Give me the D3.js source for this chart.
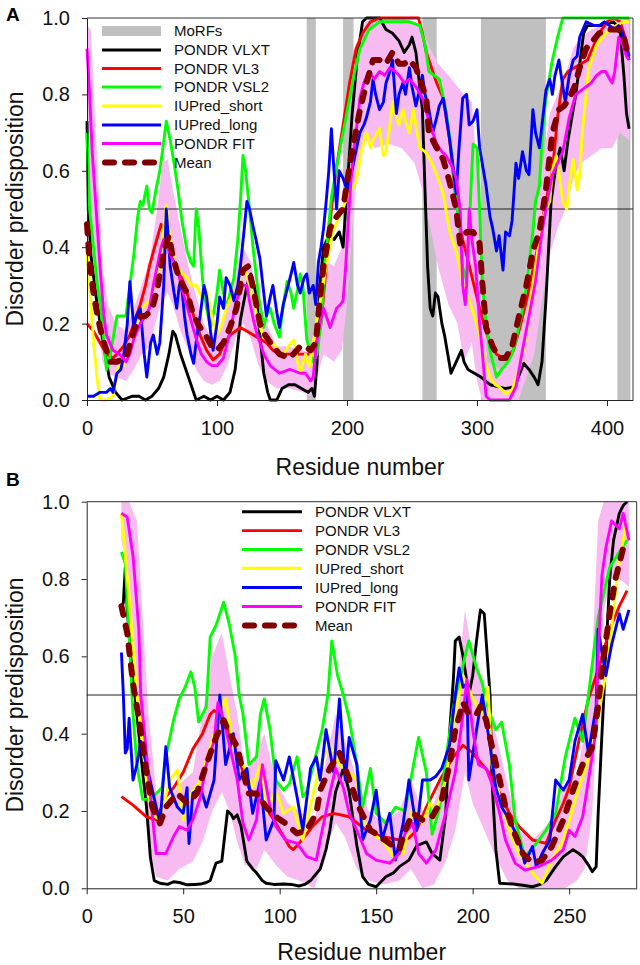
<!DOCTYPE html>
<html><head><meta charset="utf-8">
<script src="https://cdn.jsdelivr.net/npm/d3@7"></script>
<style>body{margin:0;background:#fff}svg{display:block;font-family:"Liberation Sans",Arial,sans-serif}</style>
</head><body>
<svg id="c" width="640" height="965"></svg>
<script>
// ---------- shared ----------
const seriesNames = ["PONDR VLXT","PONDR VL3","PONDR VSL2","IUPred_short","IUPred_long","PONDR FIT","Mean"];
const seriesColors = ["#000000","#ff0000","#00ff00","#ffff00","#0000ff","#ff00ff","#800000"];
const yTicks = [0,0.2,0.4,0.6,0.8,1.0];

// ---------- Panel A ----------
const xTicksA = [0,100,200,300,400];
const morfsA = [[169,176],[197,205],[258,269],[303,353],[408,418]];
const vlxtA = [[0,0.73],[1,0.5],[3,0.38],[7,0.27],[12,0.16],[17,0.06],[22,0.02],[27,0.0],[35,0.01],[40,0.01],[45,0.0],[50,0.01],[55,0.03],[59,0.06],[63,0.12],[66,0.18],[68,0.17],[72,0.12],[77,0.07],[81,0.03],[84,0.0],[90,0.01],[95,0.0],[100,0.01],[105,0.0],[110,0.02],[114,0.08],[118,0.21],[123,0.30],[126,0.33],[130,0.28],[133,0.17],[136,0.07],[139,0.02],[141,0.0],[146,0.0],[150,0.03],[155,0.04],[160,0.04],[165,0.03],[170,0.02],[173,0.03],[175,0.01],[177,0.1],[179,0.3],[182,0.4],[186,0.43],[190,0.42],[194,0.44],[197,0.40],[200,0.55],[204,0.75],[208,0.9],[212,0.99],[215,1.0],[225,1.0],[230,0.97],[235,0.96],[240,0.94],[244,0.91],[248,0.93],[250,0.95],[253,0.91],[256,0.82],[258,0.76],[260,0.55],[262,0.35],[264,0.24],[266,0.22],[268,0.28],[270,0.27],[273,0.2],[275,0.17],[280,0.07],[284,0.1],[288,0.13],[290,0.1],[293,0.08],[298,0.07],[303,0.06],[310,0.04],[316,0.035],[322,0.03],[329,0.035],[333,0.07],[336,0.096],[340,0.08],[344,0.06],[347,0.04],[350,0.1],[353,0.26],[357,0.52],[361,0.62],[364,0.66],[367,0.6],[370,0.68],[373,0.74],[376,0.8],[379,0.88],[382,0.96],[385,0.98],[395,0.98],[405,0.99],[410,0.97],[413,0.85],[415,0.75],[417,0.71]];
const vl3A = [[0,0.2],[5,0.18],[10,0.15],[15,0.12],[20,0.11],[23,0.12],[28,0.14],[33,0.17],[37,0.21],[41,0.25],[45,0.3],[48,0.35],[52,0.4],[57,0.46],[60,0.44],[63,0.41],[66,0.375],[70,0.34],[74,0.31],[77,0.28],[82,0.22],[87,0.17],[92,0.13],[97,0.105],[102,0.12],[106,0.15],[110,0.17],[114,0.18],[118,0.19],[123,0.18],[128,0.17],[133,0.16],[138,0.15],[143,0.13],[148,0.12],[155,0.12],[160,0.12],[165,0.12],[170,0.12],[175,0.13],[180,0.2],[184,0.35],[188,0.5],[192,0.61],[197,0.72],[202,0.83],[207,0.92],[212,0.96],[218,0.99],[225,1.0],[240,1.0],[255,1.0],[258,0.96],[261,0.91],[265,0.87],[269,0.83],[274,0.79],[279,0.68],[283,0.55],[286,0.47],[289,0.42],[292,0.38],[297,0.31],[302,0.24],[306,0.19],[310,0.15],[315,0.12],[320,0.11],[325,0.12],[328,0.13],[333,0.19],[338,0.26],[343,0.34],[348,0.42],[353,0.52],[358,0.6],[362,0.74],[366,0.84],[370,0.86],[375,0.87],[380,0.88],[385,0.89],[390,0.93],[394,0.96],[400,0.99],[405,1.0],[410,0.99],[414,0.95],[417,0.9]];
const vsl2A = [[0,0.70],[2,0.5],[5,0.4],[8,0.3],[10,0.26],[13,0.15],[15,0.08],[17,0.1],[19,0.14],[23,0.22],[27,0.22],[30,0.22],[33,0.3],[36,0.38],[39,0.48],[41,0.52],[43,0.51],[46,0.56],[48,0.5],[50,0.49],[53,0.55],[56,0.6],[58,0.65],[61,0.73],[64,0.68],[67,0.62],[70,0.55],[73,0.47],[77,0.39],[80,0.36],[82,0.35],[84,0.5],[86,0.45],[89,0.31],[92,0.24],[95,0.19],[98,0.24],[100,0.28],[102,0.34],[104,0.3],[107,0.24],[110,0.28],[113,0.32],[116,0.42],[118,0.52],[120,0.64],[122,0.6],[125,0.5],[128,0.39],[132,0.27],[136,0.19],[138,0.22],[141,0.24],[144,0.2],[148,0.165],[151,0.25],[154,0.31],[157,0.28],[159,0.24],[162,0.29],[164,0.33],[166,0.3],[169,0.16],[172,0.12],[174,0.1],[177,0.12],[180,0.2],[183,0.35],[186,0.46],[188,0.53],[192,0.61],[197,0.7],[202,0.79],[206,0.86],[210,0.92],[217,0.97],[225,0.99],[235,0.99],[248,0.99],[256,0.98],[260,0.93],[263,0.86],[267,0.85],[271,0.84],[276,0.76],[279,0.69],[281,0.63],[284,0.52],[287,0.44],[289,0.35],[292,0.31],[294,0.45],[296,0.6],[297,0.67],[300,0.66],[302,0.5],[304,0.31],[307,0.2],[310,0.13],[315,0.06],[319,0.08],[323,0.096],[327,0.12],[330,0.157],[334,0.22],[338,0.3],[343,0.44],[345,0.52],[348,0.56],[350,0.68],[353,0.79],[358,0.89],[362,0.95],[366,1.0],[380,1.0],[400,1.0],[417,1.0]];
const iushortA = [[0,0.38],[2,0.3],[5,0.15],[8,0.05],[10,0.0],[15,0.0],[20,0.01],[24,0.087],[28,0.09],[33,0.13],[37,0.18],[41,0.236],[45,0.25],[48,0.26],[52,0.3],[56,0.35],[59,0.45],[61,0.51],[63,0.45],[66,0.38],[69,0.35],[73,0.33],[77,0.32],[80,0.3],[84,0.3],[88,0.27],[92,0.29],[96,0.22],[100,0.17],[104,0.2],[107,0.24],[111,0.27],[115,0.29],[118,0.32],[120,0.35],[123,0.33],[126,0.28],[128,0.26],[132,0.2],[136,0.165],[140,0.15],[143,0.15],[147,0.13],[151,0.12],[155,0.14],[159,0.157],[162,0.1],[164,0.07],[168,0.12],[171,0.087],[174,0.15],[176,0.19],[180,0.27],[184,0.35],[189,0.44],[194,0.48],[199,0.52],[203,0.55],[207,0.57],[211,0.65],[215,0.70],[218,0.66],[220,0.68],[225,0.71],[228,0.64],[230,0.65],[233,0.72],[235,0.78],[238,0.74],[240,0.72],[243,0.76],[245,0.73],[248,0.7],[251,0.76],[254,0.7],[256,0.66],[260,0.65],[264,0.63],[269,0.59],[274,0.54],[279,0.44],[284,0.39],[289,0.31],[294,0.26],[298,0.22],[302,0.17],[306,0.1],[310,0.06],[314,0.04],[317,0.035],[322,0.017],[327,0.026],[333,0.087],[338,0.17],[342,0.28],[345,0.35],[350,0.47],[353,0.5],[356,0.52],[358,0.6],[361,0.64],[364,0.57],[366,0.52],[369,0.5],[371,0.56],[374,0.63],[377,0.55],[379,0.59],[381,0.7],[384,0.8],[386,0.87],[392,0.93],[399,0.96],[407,0.98],[412,0.99],[417,0.99]];
const iulongA = [[0,0.01],[5,0.01],[10,0.02],[15,0.02],[18,0.03],[20,0.02],[23,0.07],[26,0.08],[28,0.11],[31,0.2],[33,0.31],[36,0.19],[38,0.22],[41,0.24],[44,0.12],[46,0.06],[49,0.15],[51,0.17],[54,0.12],[56,0.15],[59,0.3],[61,0.5],[64,0.35],[67,0.28],[69,0.24],[71,0.3],[73,0.29],[75,0.22],[77,0.17],[80,0.12],[82,0.096],[85,0.18],[87,0.22],[90,0.3],[92,0.27],[95,0.18],[97,0.13],[100,0.2],[102,0.27],[105,0.24],[107,0.32],[110,0.3],[113,0.26],[116,0.3],[118,0.35],[121,0.45],[123,0.52],[125,0.5],[128,0.45],[130,0.42],[133,0.37],[136,0.28],[138,0.22],[141,0.27],[143,0.3],[146,0.23],[148,0.19],[151,0.25],[154,0.29],[157,0.33],[159,0.36],[162,0.3],[164,0.28],[167,0.32],[169,0.33],[171,0.28],[174,0.3],[176,0.25],[178,0.36],[180,0.4],[182,0.45],[184,0.52],[186,0.6],[188,0.71],[190,0.6],[192,0.5],[194,0.6],[197,0.58],[200,0.55],[202,0.57],[205,0.62],[208,0.67],[210,0.70],[213,0.72],[215,0.74],[218,0.78],[220,0.84],[222,0.8],[225,0.76],[228,0.78],[230,0.83],[233,0.86],[235,0.89],[238,0.75],[240,0.8],[243,0.83],[245,0.8],[248,0.87],[250,0.82],[253,0.77],[255,0.8],[258,0.85],[260,0.8],[263,0.76],[266,0.7],[269,0.74],[271,0.77],[274,0.79],[276,0.75],[279,0.68],[282,0.6],[284,0.54],[286,0.65],[289,0.79],[292,0.8],[294,0.72],[297,0.73],[300,0.76],[302,0.66],[305,0.6],[307,0.56],[310,0.48],[312,0.45],[315,0.39],[317,0.43],[320,0.34],[322,0.44],[325,0.43],[327,0.47],[330,0.62],[332,0.58],[335,0.65],[338,0.6],[340,0.59],[343,0.76],[345,0.7],[348,0.66],[350,0.72],[353,0.81],[356,0.84],[358,0.8],[360,0.85],[363,0.89],[366,0.82],[368,0.78],[371,0.85],[374,0.89],[377,0.9],[379,0.95],[384,0.99],[390,0.98],[394,0.98],[398,0.99],[402,0.98],[406,0.97],[409,0.98],[412,0.96],[415,0.92],[417,0.89]];
const fitA = [[0,0.92],[2,0.8],[4,0.65],[7,0.5],[10,0.35],[13,0.22],[15,0.17],[20,0.13],[25,0.12],[30,0.10],[33,0.12],[36,0.16],[41,0.20],[45,0.22],[48,0.24],[51,0.3],[54,0.35],[57,0.4],[59,0.42],[62,0.4],[64,0.38],[69,0.35],[74,0.28],[79,0.22],[84,0.16],[88,0.12],[92,0.10],[96,0.09],[100,0.09],[105,0.11],[110,0.18],[115,0.26],[120,0.30],[123,0.30],[125,0.26],[128,0.21],[131,0.17],[136,0.12],[141,0.09],[148,0.07],[156,0.08],[164,0.07],[168,0.07],[172,0.05],[174,0.06],[176,0.13],[179,0.2],[182,0.24],[185,0.21],[187,0.19],[190,0.22],[192,0.24],[195,0.25],[197,0.26],[199,0.35],[201,0.47],[203,0.57],[205,0.65],[208,0.73],[210,0.79],[213,0.83],[217,0.86],[221,0.84],[225,0.86],[229,0.85],[233,0.87],[237,0.86],[240,0.85],[244,0.83],[248,0.84],[253,0.82],[258,0.79],[263,0.73],[266,0.7],[269,0.67],[273,0.65],[276,0.64],[281,0.61],[284,0.58],[287,0.5],[289,0.3],[291,0.25],[292,0.3],[294,0.5],[296,0.42],[299,0.35],[302,0.2],[304,0.13],[307,0.01],[310,0.0],[317,0.0],[325,0.0],[330,0.035],[335,0.13],[340,0.22],[345,0.31],[350,0.44],[354,0.52],[358,0.59],[362,0.62],[366,0.65],[371,0.74],[376,0.80],[380,0.81],[384,0.82],[388,0.83],[392,0.85],[396,0.86],[399,0.86],[402,0.84],[404,0.83],[406,0.86],[409,0.95],[412,0.93],[415,0.90],[417,0.89]];
const meanA = [[0,0.46],[2,0.36],[5,0.28],[7,0.24],[10,0.19],[13,0.15],[18,0.10],[23,0.10],[30,0.11],[36,0.18],[41,0.22],[45,0.22],[48,0.23],[51,0.25],[54,0.29],[57,0.35],[59,0.39],[63,0.43],[66,0.375],[69,0.34],[72,0.31],[77,0.28],[82,0.22],[87,0.19],[92,0.165],[96,0.14],[100,0.13],[105,0.15],[110,0.19],[115,0.24],[118,0.3],[120,0.34],[124,0.35],[128,0.29],[133,0.20],[137,0.17],[141,0.15],[148,0.12],[156,0.11],[164,0.14],[168,0.14],[172,0.13],[176,0.15],[179,0.26],[182,0.35],[187,0.45],[192,0.48],[197,0.50],[200,0.57],[205,0.67],[210,0.76],[215,0.83],[220,0.89],[225,0.89],[230,0.88],[235,0.91],[240,0.88],[244,0.88],[248,0.89],[253,0.87],[258,0.82],[261,0.79],[263,0.70],[269,0.66],[274,0.63],[279,0.57],[284,0.50],[287,0.41],[292,0.44],[297,0.44],[302,0.41],[304,0.31],[307,0.19],[312,0.14],[317,0.11],[322,0.11],[327,0.14],[333,0.23],[338,0.30],[343,0.39],[348,0.44],[353,0.55],[358,0.70],[363,0.76],[367,0.77],[371,0.79],[375,0.82],[379,0.87],[384,0.92],[389,0.94],[394,0.96],[402,0.97],[409,0.97],[413,0.95],[415,0.92]];
const bandA = [[0,0.6,0.98],[3,0.45,0.97],[6,0.35,0.75],[9,0.2,0.55],[12,0.1,0.35],[16,0.07,0.25],[22,0.06,0.2],[30,0.05,0.18],[36,0.08,0.24],[42,0.12,0.3],[48,0.14,0.36],[54,0.22,0.5],[58,0.26,0.62],[62,0.28,0.63],[66,0.25,0.55],[72,0.18,0.45],[78,0.13,0.35],[84,0.08,0.27],[90,0.05,0.2],[96,0.04,0.16],[102,0.05,0.18],[108,0.09,0.26],[114,0.16,0.34],[120,0.2,0.4],[126,0.16,0.36],[132,0.09,0.26],[138,0.05,0.2],[146,0.03,0.14],[156,0.03,0.14],[166,0.02,0.13],[172,0.01,0.12],[176,0.05,0.22],[182,0.12,0.37],[190,0.1,0.35],[196,0.13,0.4],[200,0.25,0.6],[204,0.45,0.8],[208,0.6,0.92],[214,0.68,0.99],[222,0.66,1.0],[232,0.67,1.0],[242,0.66,1.0],[252,0.62,0.99],[258,0.55,0.97],[264,0.45,0.92],[270,0.35,0.88],[278,0.25,0.85],[285,0.2,0.82],[290,0.1,0.8],[296,0.15,0.78],[300,0.05,0.6],[304,0.0,0.3],[308,0.0,0.1],[318,0.0,0.08],[326,0.0,0.1],[332,0.0,0.2],[338,0.06,0.35],[344,0.12,0.45],[350,0.26,0.6],[356,0.38,0.75],[362,0.45,0.8],[368,0.5,0.85],[374,0.58,0.92],[380,0.62,0.95],[388,0.64,0.97],[396,0.66,0.98],[404,0.66,0.98],[410,0.7,1.0],[417,0.68,0.99]];

// ---------- Panel B ----------
const xTicksB = [0,50,100,150,200,250];
const vlxtB = [[18,0.72],[19,0.74],[20,0.83],[21,0.72],[23,0.6],[26,0.45],[29,0.3],[31,0.21],[33,0.08],[35,0.02],[38,0.013],[42,0.01],[45,0.017],[48,0.015],[52,0.009],[56,0.01],[59,0.011],[62,0.015],[64,0.02],[66,0.05],[67,0.065],[70,0.07],[73,0.2],[75,0.19],[76,0.18],[78,0.19],[80,0.16],[83,0.07],[86,0.05],[88,0.04],[91,0.02],[93,0.013],[97,0.01],[102,0.011],[106,0.01],[110,0.006],[113,0.01],[116,0.02],[121,0.05],[124,0.1],[126,0.15],[129,0.25],[133,0.31],[136,0.25],[138,0.18],[140,0.11],[143,0.03],[146,0.01],[150,0.004],[155,0.03],[159,0.04],[162,0.056],[167,0.073],[171,0.11],[176,0.12],[179,0.09],[183,0.073],[186,0.19],[188,0.4],[190,0.54],[191,0.64],[193,0.65],[195,0.6],[198,0.5],[200,0.55],[202,0.64],[204,0.72],[206,0.71],[208,0.57],[209,0.5],[210,0.28],[212,0.1],[214,0.013],[221,0.011],[226,0.008],[231,0.004],[235,0.01],[238,0.02],[243,0.056],[247,0.082],[252,0.10],[255,0.09],[257,0.082],[260,0.06],[262,0.043],[264,0.056],[265,0.19],[267,0.4],[269,0.6],[271,0.8],[273,0.9],[276,0.97],[278,0.99],[280,1.0]];
const vl3B = [[18,0.237],[24,0.215],[31,0.185],[36,0.177],[41,0.237],[45,0.26],[50,0.30],[55,0.36],[60,0.40],[64,0.45],[66,0.46],[69,0.45],[72,0.43],[74,0.40],[79,0.33],[84,0.26],[91,0.22],[97,0.177],[102,0.134],[105,0.108],[107,0.10],[110,0.116],[114,0.14],[117,0.16],[122,0.185],[128,0.194],[136,0.185],[145,0.15],[153,0.134],[162,0.125],[167,0.13],[171,0.15],[176,0.21],[183,0.28],[190,0.34],[195,0.37],[200,0.35],[205,0.32],[210,0.29],[214,0.246],[219,0.194],[224,0.16],[231,0.125],[238,0.116],[243,0.177],[247,0.22],[250,0.26],[255,0.38],[260,0.49],[266,0.58],[271,0.67],[276,0.73],[280,0.77]];
const vsl2B = [[18,0.87],[20,0.84],[22,0.65],[24,0.45],[26,0.32],[29,0.23],[33,0.23],[36,0.245],[39,0.26],[41,0.34],[45,0.435],[48,0.49],[51,0.52],[54,0.56],[56,0.52],[58,0.43],[60,0.45],[62,0.47],[64,0.65],[67,0.68],[71,0.74],[74,0.68],[77,0.6],[79,0.5],[81,0.45],[84,0.32],[86,0.33],[88,0.34],[90,0.45],[92,0.49],[95,0.41],[98,0.28],[102,0.254],[105,0.27],[109,0.34],[112,0.237],[114,0.25],[117,0.31],[122,0.41],[125,0.5],[127,0.64],[130,0.55],[133,0.50],[136,0.44],[140,0.32],[143,0.21],[147,0.31],[150,0.194],[155,0.168],[160,0.21],[165,0.20],[169,0.31],[172,0.39],[176,0.30],[179,0.14],[183,0.21],[186,0.33],[190,0.47],[193,0.53],[196,0.6],[198,0.64],[202,0.57],[205,0.53],[207,0.48],[212,0.41],[215,0.43],[219,0.32],[222,0.177],[227,0.082],[233,0.116],[238,0.15],[243,0.194],[248,0.34],[253,0.44],[257,0.38],[260,0.50],[265,0.70],[271,0.83],[276,0.87],[280,0.90]];
const iushortB = [[18,0.97],[22,0.75],[26,0.5],[28,0.41],[31,0.28],[34,0.19],[38,0.177],[43,0.28],[47,0.306],[50,0.177],[53,0.237],[59,0.28],[64,0.366],[69,0.45],[72,0.49],[76,0.366],[81,0.32],[86,0.26],[90,0.32],[93,0.194],[98,0.254],[102,0.194],[107,0.21],[112,0.125],[115,0.19],[117,0.237],[121,0.32],[126,0.37],[131,0.32],[136,0.30],[140,0.28],[143,0.177],[148,0.14],[153,0.125],[159,0.082],[164,0.09],[169,0.21],[174,0.168],[178,0.22],[181,0.20],[186,0.28],[191,0.45],[195,0.55],[200,0.49],[205,0.45],[208,0.52],[210,0.32],[214,0.237],[219,0.15],[224,0.09],[231,0.04],[236,0.013],[241,0.073],[247,0.125],[252,0.21],[255,0.26],[259,0.32],[264,0.41],[267,0.5],[270,0.58],[273,0.72],[276,0.85],[280,0.95]];
const iulongB = [[18,0.61],[19,0.5],[20,0.35],[21,0.36],[22,0.44],[24,0.28],[26,0.32],[28,0.38],[31,0.32],[34,0.254],[38,0.168],[41,0.366],[43,0.26],[47,0.21],[50,0.194],[52,0.26],[53,0.116],[55,0.246],[59,0.26],[62,0.21],[66,0.28],[69,0.5],[72,0.32],[76,0.40],[79,0.28],[83,0.31],[86,0.194],[90,0.28],[93,0.125],[97,0.177],[98,0.33],[102,0.28],[105,0.34],[109,0.237],[112,0.15],[116,0.31],[119,0.34],[121,0.28],[124,0.41],[128,0.30],[131,0.49],[134,0.28],[136,0.39],[140,0.32],[143,0.125],[147,0.177],[150,0.254],[153,0.125],[157,0.194],[160,0.073],[164,0.168],[167,0.28],[171,0.15],[174,0.28],[178,0.28],[181,0.29],[184,0.31],[188,0.37],[191,0.50],[193,0.57],[195,0.52],[197,0.53],[198,0.28],[202,0.41],[205,0.50],[209,0.37],[212,0.26],[215,0.21],[219,0.177],[224,0.125],[227,0.065],[231,0.108],[233,0.056],[236,0.09],[240,0.125],[243,0.28],[247,0.254],[250,0.28],[253,0.38],[257,0.45],[260,0.35],[264,0.47],[265,0.67],[269,0.55],[272,0.63],[276,0.71],[278,0.67],[281,0.72]];
const fitB = [[18,0.97],[21,0.96],[24,0.86],[27,0.67],[28,0.5],[29,0.45],[33,0.24],[36,0.09],[41,0.09],[45,0.134],[48,0.16],[52,0.15],[55,0.177],[59,0.237],[62,0.32],[66,0.38],[68,0.48],[71,0.435],[74,0.37],[78,0.28],[81,0.168],[84,0.125],[88,0.177],[91,0.32],[95,0.21],[98,0.16],[103,0.125],[109,0.116],[114,0.082],[119,0.073],[121,0.125],[126,0.246],[129,0.31],[133,0.26],[136,0.194],[140,0.15],[145,0.09],[150,0.073],[157,0.065],[162,0.09],[165,0.142],[169,0.168],[172,0.09],[176,0.065],[181,0.10],[186,0.194],[191,0.30],[195,0.45],[197,0.54],[200,0.41],[203,0.32],[207,0.31],[210,0.27],[214,0.194],[217,0.125],[222,0.065],[227,0.047],[234,0.056],[241,0.073],[247,0.10],[250,0.15],[253,0.134],[257,0.185],[260,0.28],[264,0.41],[265,0.6],[267,0.81],[269,0.88],[272,0.95],[276,0.93],[278,0.97],[281,0.90]];
const meanB = [[18,0.73],[21,0.66],[24,0.53],[28,0.41],[31,0.30],[34,0.21],[38,0.168],[41,0.21],[47,0.245],[52,0.22],[57,0.245],[62,0.32],[67,0.39],[71,0.435],[74,0.40],[78,0.366],[81,0.30],[84,0.245],[88,0.245],[93,0.21],[98,0.185],[103,0.168],[109,0.142],[114,0.15],[119,0.194],[121,0.254],[126,0.31],[131,0.35],[134,0.31],[138,0.254],[141,0.21],[147,0.15],[152,0.134],[157,0.116],[162,0.10],[165,0.15],[169,0.194],[174,0.177],[179,0.185],[184,0.23],[188,0.32],[191,0.41],[195,0.48],[198,0.45],[202,0.45],[204,0.47],[207,0.435],[210,0.366],[214,0.28],[217,0.21],[221,0.15],[226,0.09],[231,0.065],[236,0.073],[241,0.108],[247,0.177],[252,0.254],[257,0.32],[262,0.366],[265,0.47],[267,0.57],[271,0.71],[274,0.80],[278,0.88]];
const bandB = [[18,0.9,1.0],[22,0.8,1.0],[26,0.55,0.95],[29,0.3,0.7],[32,0.12,0.45],[36,0.03,0.25],[42,0.02,0.22],[48,0.05,0.27],[55,0.07,0.3],[60,0.12,0.45],[65,0.2,0.6],[70,0.25,0.66],[74,0.2,0.55],[78,0.12,0.45],[82,0.06,0.3],[88,0.05,0.35],[92,0.1,0.4],[98,0.06,0.28],[104,0.03,0.22],[110,0.02,0.2],[118,0.0,0.17],[124,0.1,0.33],[129,0.17,0.45],[134,0.13,0.38],[140,0.05,0.28],[146,0.02,0.2],[154,0.01,0.17],[162,0.02,0.2],[168,0.05,0.28],[174,0.0,0.2],[180,0.01,0.22],[186,0.07,0.32],[191,0.15,0.48],[196,0.3,0.72],[200,0.22,0.6],[206,0.15,0.5],[212,0.08,0.4],[218,0.02,0.27],[224,0.0,0.15],[232,0.0,0.13],[240,0.0,0.17],[248,0.0,0.26],[254,0.02,0.3],[258,0.05,0.4],[262,0.2,0.6],[265,0.5,0.95],[268,0.72,1.0],[272,0.8,1.0],[276,0.8,1.0],[281,0.78,1.0]];

// ---------- drawing ----------
const svg = d3.select("#c");
const FONT = '"Liberation Sans", Arial, sans-serif';

function drawPanel(o) {
  const x = d3.scaleLinear().domain([0, o.xmax]).range([o.l, o.r]);
  const y = d3.scaleLinear().domain([0, 1]).range([o.b, o.t]);
  const g = svg.append("g");

  g.selectAll("rect.morf").data(o.morfs).join("rect")
    .attr("x", d => x(d[0])).attr("width", d => x(d[1]) - x(d[0]))
    .attr("y", y(1)).attr("height", y(0) - y(1)).attr("fill", "#c0c0c0");

  g.append("path").datum(o.band)
    .attr("d", d3.area().x(d => x(d[0])).y0(d => y(d[1])).y1(d => y(d[2])))
    .attr("fill", "#f7bbf2");

  g.append("line").attr("x1", x(o.hStart)).attr("x2", o.r)
    .attr("y1", y(0.5)).attr("y2", y(0.5)).attr("stroke", "#222").attr("stroke-width", 1);

  const line = d3.line().x(d => x(d[0])).y(d => y(d[1]));
  o.series.forEach((s, i) => {
    const p = g.append("path").datum(s).attr("d", line).attr("fill", "none")
      .attr("stroke", seriesColors[i]).attr("stroke-linejoin", "round");
    if (i === 6) p.attr("stroke-width", 6).attr("stroke-dasharray", "9 11").attr("stroke-linecap", "round");
    else p.attr("stroke-width", 2.9);
  });

  const ya = g.append("g").attr("transform", `translate(${o.l},0)`)
    .call(d3.axisLeft(y).tickValues(yTicks).tickFormat(d3.format(".1f")).tickSize(5).tickSizeOuter(0).tickPadding(12));
  const xa = g.append("g").attr("transform", `translate(0,${o.b})`)
    .call(d3.axisBottom(x).tickValues(o.xticks).tickSize(6).tickSizeOuter(0).tickPadding(15));
  [ya, xa].forEach(a => {
    a.selectAll("text").attr("font-size", 20).attr("font-family", FONT).attr("fill", "#111");
    a.selectAll("line,path").attr("stroke", "#222");
  });
  g.append("path").attr("d", `M${o.l},${o.t}H${o.r}V${o.b}`).attr("fill", "none").attr("stroke", "#333").attr("stroke-width", 1);

  g.append("text").attr("x", (o.l + o.r) / 2).attr("y", o.xTitleY).attr("text-anchor", "middle")
    .attr("font-size", 23).attr("font-family", FONT).attr("fill", "#111").text("Residue number");
  g.append("text").attr("transform", `translate(23,${(o.t + o.b) / 2}) rotate(-90)`).attr("text-anchor", "middle")
    .attr("font-size", 23).attr("font-family", FONT).attr("fill", "#111").text("Disorder predisposition");
  g.append("text").attr("x", 6).attr("y", o.letterY).attr("font-size", 19).attr("font-weight", "bold")
    .attr("font-family", FONT).attr("fill", "#000").text(o.letter);

  const lg = g.append("g");
  o.legend.forEach((item, k) => {
    const yy = o.legY[k];
    if (item.type === "rect") {
      lg.append("rect").attr("x", o.legX0).attr("width", o.legX1 - o.legX0).attr("y", yy - 5).attr("height", 10).attr("fill", "#c0c0c0");
    } else if (item.type === "mean") {
      lg.append("line").attr("x1", o.legX0 + 3).attr("x2", o.legX1 - 3).attr("y1", yy).attr("y2", yy)
        .attr("stroke", item.color).attr("stroke-width", 6).attr("stroke-dasharray", "9 11").attr("stroke-linecap", "round");
    } else {
      lg.append("line").attr("x1", o.legX0).attr("x2", o.legX1).attr("y1", yy).attr("y2", yy)
        .attr("stroke", item.color).attr("stroke-width", 2.9);
    }
    lg.append("text").attr("x", o.legTX).attr("y", yy).attr("dy", "0.36em").attr("font-size", 15)
      .attr("font-family", FONT).attr("fill", "#111").text(item.name);
  });
}

const legendItems = seriesNames.map((n, i) => ({name: n, color: seriesColors[i], type: i === 6 ? "mean" : "line"}));

drawPanel({
  l: 87, r: 633, t: 18, b: 400, xmax: 420, xticks: xTicksA, morfs: morfsA, band: bandA, hStart: 14,
  series: [vlxtA, vl3A, vsl2A, iushortA, iulongA, fitA, meanA],
  xTitleY: 475, letter: "A", letterY: 21,
  legend: [{name: "MoRFs", type: "rect"}].concat(legendItems),
  legX0: 102, legX1: 161, legTX: 174, legY: [31, 50, 68.5, 87, 106, 125, 143.5, 162.5]
});
drawPanel({
  l: 86.7, r: 636.7, t: 501.7, b: 888.3, xmax: 285, xticks: xTicksB, morfs: [], band: bandB, hStart: 0,
  series: [vlxtB, vl3B, vsl2B, iushortB, iulongB, fitB, meanB],
  xTitleY: 960, letter: "B", letterY: 486,
  legend: legendItems,
  legX0: 242, legX1: 302, legTX: 315, legY: [511.7, 530.6, 549.5, 568.3, 587.5, 606.5, 625.6]
});
</script>
</body></html>
